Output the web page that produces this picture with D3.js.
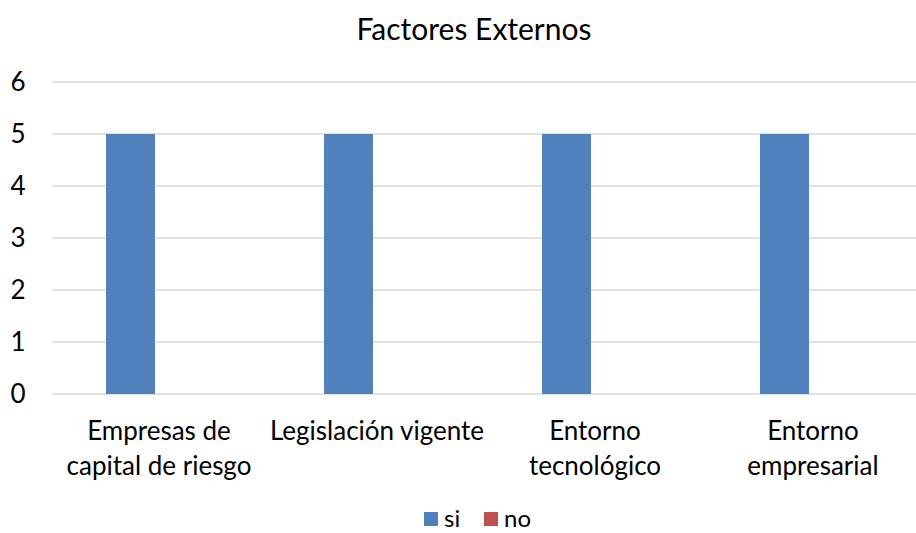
<!DOCTYPE html>
<html>
<head>
<meta charset="utf-8">
<script src="https://cdn.jsdelivr.net/npm/d3@7.9.0/dist/d3.min.js"></script>
<style>
  body { margin: 0; background: #fff; }
  text { font-family: Lato, "Open Sans", sans-serif; fill: #000; }
</style>
</head>
<body>
<svg id="chart" width="916" height="533"></svg>
<script>
// data
const categories = [
  ['Empresas de', 'capital de riesgo'],
  ['Legislación vigente'],
  ['Entorno', 'tecnológico'],
  ['Entorno', 'empresarial']
];
const seriesNames = ['si', 'no'];
const siValues = [5, 5, 5, 5];
const noValues = [0, 0, 0, 0];
const yTicks = [0, 1, 2, 3, 4, 5, 6];
const colors = ['#4F81BD', '#C0504D'];

const svg = d3.select('#chart');
const plotTop = 82, plotBottom = 394;

let x0 = d3.scaleBand()
    .domain(d3.range(categories.length))
    .range([46, 918]);

let x1 = d3.scaleBand()
    .domain(seriesNames)
    .range([0, x0.bandwidth()])
    .paddingOuter(1.225);

let y = d3.scaleLinear().domain([0, 6]).range([plotBottom, plotTop]);

// gridlines
svg.append('g')
    .selectAll('line')
    .data(yTicks)
    .join('line')
    .attr('x1', 52).attr('x2', 916)
    .attr('y1', d => y(d)).attr('y2', d => y(d))
    .attr('stroke', '#D9D9D9')
    .attr('stroke-width', 1.3);

// y tick labels
svg.append('g')
    .selectAll('text')
    .data(yTicks)
    .join('text')
    .attr('x', 18)
    .attr('y', d => y(d))
    .attr('dy', '0.36em')
    .attr('text-anchor', 'middle')
    .attr('font-size', 26)
    .text(d => d);

// bars
let rows = categories.map((c, i) => ({ i, values: [siValues[i], noValues[i]] }));
svg.append('g')
    .selectAll('g')
    .data(rows)
    .join('g')
    .attr('transform', d => `translate(${x0(d.i)},0)`)
    .selectAll('rect')
    .data(d => d.values.map((v, k) => ({ key: seriesNames[k], v, k })))
    .join('rect')
    .attr('x', d => x1(d.key))
    .attr('width', x1.bandwidth())
    .attr('y', d => y(d.v))
    .attr('height', d => y(0) - y(d.v))
    .attr('fill', d => colors[d.k]);

// category labels
svg.append('g')
    .selectAll('text')
    .data(categories)
    .join('text')
    .attr('x', (d, i) => x0(i) + x0.bandwidth() / 2 + 4)
    .attr('y', 440)
    .attr('text-anchor', 'middle')
    .attr('font-size', 26)
    .each(function (d) {
        d3.select(this).selectAll('tspan')
            .data(d)
            .join('tspan')
            .attr('x', d3.select(this).attr('x'))
            .attr('dy', (t, j) => j === 0 ? 0 : 35)
            .text(t => t);
    });

// title
svg.append('text')
    .attr('x', 474)
    .attr('y', 40)
    .attr('text-anchor', 'middle')
    .attr('font-size', 30)
    .text('Factores Externos');

// legend
let legendX = [424, 484];
let legend = svg.append('g');
seriesNames.forEach((s, k) => {
    legend.append('rect')
        .attr('x', legendX[k]).attr('y', 512)
        .attr('width', 14).attr('height', 14)
        .attr('fill', colors[k]);
    legend.append('text')
        .attr('x', legendX[k] + 20).attr('y', 518)
        .attr('dy', '0.36em')
        .attr('font-size', 24)
        .text(s);
});
</script>
</body>
</html>
